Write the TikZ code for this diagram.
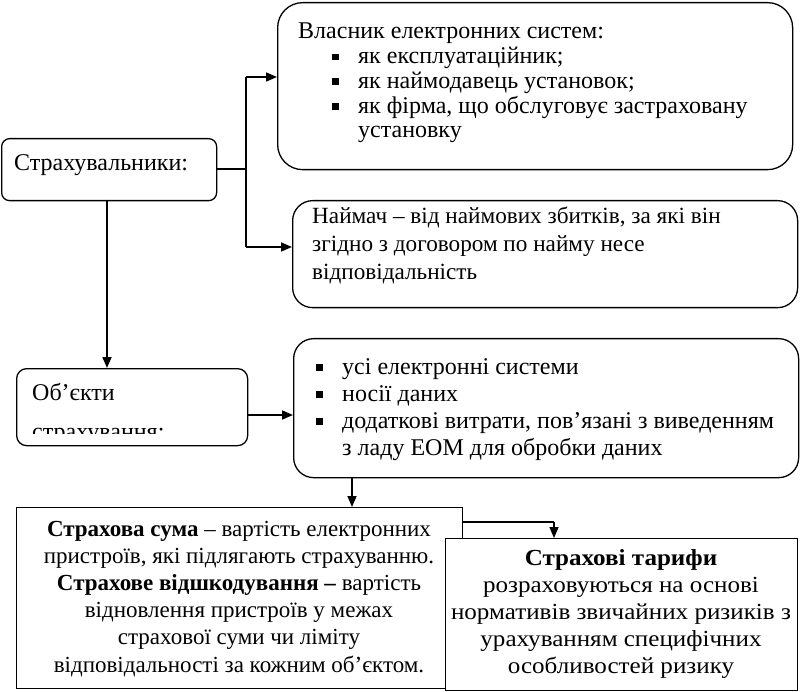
\documentclass[tikz,border=0pt]{standalone}
\usepackage{fontspec}
\setmainfont{Liberation Serif}
\newfontfamily\widefont[FakeStretch=1.09]{Liberation Serif}
\usetikzlibrary{arrows.meta}
\newcommand\fsz[2]{\fontsize{#1}{#2}\selectfont}
\newcommand\sqb{\rule[3.5pt]{6.5pt}{6.5pt}}
\begin{document}
\begin{tikzpicture}[x=1pt,y=-1pt,
  box/.style={draw, line width=1.3pt, fill=white, anchor=north west, inner sep=0pt},
  conn/.style={line width=1.4pt},
  arr/.style={line width=1.6pt,-{Triangle[length=11pt,width=9pt]}},
  txt/.style={inner sep=0pt, anchor=base west, align=left},
  ctxt/.style={inner sep=0pt, anchor=base, align=center},
]
\useasboundingbox (0,0) rectangle (800,692);
% boxes
\node[box, rounded corners=8pt, minimum width=215pt, minimum height=62pt] (b1) at (1,138) {};
\node[box, rounded corners=25pt, minimum width=515pt, minimum height=167pt] (own) at (277,2) {};
\node[box, rounded corners=20pt, minimum width=505pt, minimum height=107pt] (hire) at (292,200) {};
\node[box, rounded corners=10pt, minimum width=231pt, minimum height=77pt] (obj) at (16,368) {};
\node[box, rounded corners=20pt, minimum width=505pt, minimum height=139pt] (list) at (293,338) {};
\node[box, minimum width=446pt, minimum height=181pt] (sum) at (16,507) {};
\node[box, minimum width=352pt, minimum height=152pt] (tar) at (445,538) {};
% connectors
\coordinate (j) at (246,169);
\coordinate (jt) at (246,77);
\coordinate (jb) at (246,247);
\draw[conn] (b1.east |- j) -- (j);
\draw[conn] (jt) -- (jb);
\draw[arr] (jt) -- (jt -| own.west);
\draw[arr] (jb) -- (jb -| hire.west);
\coordinate (d1) at (107,200);
\draw[arr] (d1) -- (d1 |- obj.north);
\coordinate (oa) at (247,415);
\draw[arr] (oa) -- (oa -| list.west);
\coordinate (la) at (352,477);
\draw[arr] (la) -- (la |- sum.north);
\coordinate (sa) at (462,522);
\coordinate (sb) at (554,522);
\draw[conn] (sa) -- (sb);
\draw[arr] (sb) -- (sb |- tar.north);
% texts (anchor = baseline of the last line)
\node[txt, font=\fsz{24}{25}] (t1) at (14,171) {Страхувальники:};
\node[txt, font=\fsz{24}{24.75}] (t2) at (298,138) {Власник електронних систем:\\
\hspace*{34pt}\makebox[26pt][l]{\sqb}як експлуатаційник;\\
\hspace*{34pt}\makebox[26pt][l]{\sqb}як наймодавець установок;\\
\hspace*{34pt}\makebox[26pt][l]{\sqb}як фірма, що обслуговує застраховану\\
\hspace*{60pt}установку};
\node[txt, font=\fsz{23.2}{28}] (t3) at (312,280) {Наймач – від наймових збитків, за які він\\
згідно з договором по найму несе\\
відповідальність};
\begin{scope}
\clip (16,368) rectangle (247,433);
\node[txt, font=\fsz{24}{39}] (t4) at (32,439) {Об’єкти\\страхування:};
\end{scope}
\node[txt, font=\fsz{24}{27}] (t5) at (316,455) {\makebox[26pt][l]{\sqb}усі електронні системи\\
\makebox[26pt][l]{\sqb}носії даних\\
\makebox[26pt][l]{\sqb}додаткові витрати, пов’язані з виведенням\\
\hspace*{26pt}з ладу ЕОМ для обробки даних};
\node[ctxt, font=\fsz{23}{27.2}] (t6) at (239,672) {\textbf{Страхова сума} – вартість електронних\\
пристроїв, які підлягають страхуванню.\\
\textbf{Страхове відшкодування –} вартість\\
відновлення пристроїв у межах\\
страхової суми чи ліміту\\
відповідальності за кожним об’єктом.};
\node[ctxt, font=\widefont\fsz{23}{27}] (t7) at (621,673) {\textbf{Страхові тарифи}\\
розраховуються на основі\\
нормативів звичайних ризиків з\\
урахуванням специфічних\\
особливостей ризику};
\end{tikzpicture}
\end{document}
